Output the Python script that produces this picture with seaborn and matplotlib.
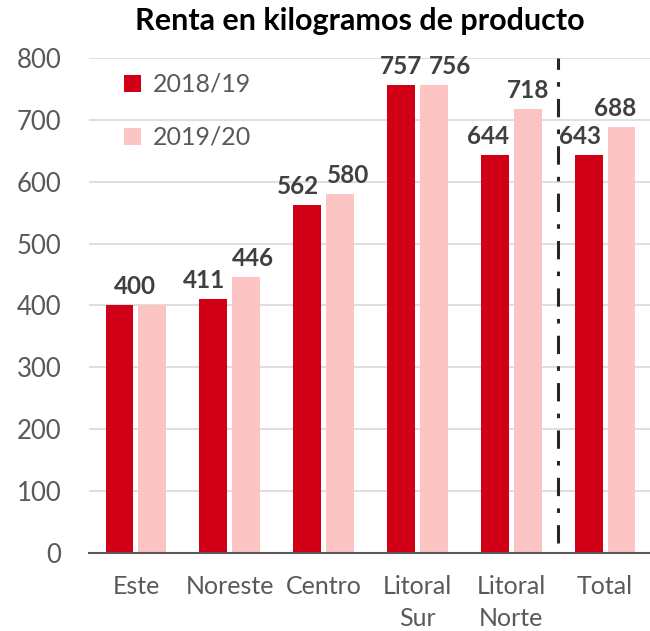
import matplotlib
matplotlib.use('Agg')
import matplotlib.pyplot as plt
import pandas as pd
import seaborn as sns

# Data
categories = ['Este', 'Noreste', 'Centro', 'Litoral\nSur', 'Litoral\nNorte', 'Total']
seasons = ['2018/19', '2019/20']
renta_2018 = [400, 411, 562, 757, 644, 643]
renta_2019 = [400, 446, 580, 756, 718, 688]

# the original hides the second "400" and nudges labels sideways (px)
show_2019 = [False, True, True, True, True, True]
nudge_2018 = [15, -9, -9, 0, -7, -9]
nudge_2019 = [0, 7, 8, 16, 0, -6]

RED = '#D20016'
PINK = '#FDC4C4'

df = pd.DataFrame({
    'categoria': categories * 2,
    'temporada': [seasons[0]] * len(categories) + [seasons[1]] * len(categories),
    'renta': renta_2018 + renta_2019,
})

sns.set_style('white')
plt.rcParams['font.family'] = ['Lato', 'DejaVu Sans']

fig = plt.figure(figsize=(6.5, 6.31), dpi=100)
ax = fig.add_axes([0.137, 0.124, 0.866, 0.784])

sns.barplot(data=df, x='categoria', y='renta', hue='temporada',
            palette=[RED, PINK], width=0.7, gap=0.15, ax=ax,
            saturation=1, edgecolor='none', legend=True)

label_sets = [
    ([str(v) for v in renta_2018], nudge_2018),
    ([str(v) if s else '' for v, s in zip(renta_2019, show_2019)], nudge_2019),
]
for container, (labels, nudges) in zip(ax.containers, label_sets):
    anns = ax.bar_label(container, labels=labels, padding=5, fontsize=17.5,
                        fontweight='bold', color='#404040')
    for ann, dx in zip(anns, nudges):
        ann.xyann = (dx * 0.72, 5)

ax.set_ylim(0, 800)
ax.set_xlim(-0.5, 5.5)
ax.set_yticks(range(0, 801, 100))
ax.yaxis.grid(True, color='#D9D9D9', linewidth=1.2)
ax.set_axisbelow(True)
for side in ['left', 'right', 'top']:
    ax.spines[side].set_visible(False)
ax.spines['bottom'].set_color('#595959')
ax.spines['bottom'].set_linewidth(1.5)
ax.tick_params(axis='x', length=0, labelsize=18, colors='#595959', pad=16)
ax.tick_params(axis='y', length=0, labelsize=18.5, colors='#595959', pad=20)
for lbl in ax.get_xticklabels():
    lbl.set_linespacing(1.45)
ax.set_xlabel('')
ax.set_ylabel('')

# separator between regions and total
ax.axvline(4.5, ymin=0.02, ymax=1.0, color='#262626', linewidth=2.2,
           linestyle=(0, (6, 4, 1.5, 4)))

ax.legend(loc='upper left', bbox_to_anchor=(0.045, 0.99), frameon=False,
          fontsize=18, handlelength=0.65, handleheight=0.65,
          labelspacing=1.2, handletextpad=0.5, borderaxespad=0,
          labelcolor='#595959')

fig.text(0.553, 0.966, 'Renta en kilogramos de producto', ha='center', va='center',
         fontsize=22, fontweight='bold', color='black')

fig.savefig('out.png', dpi=100)
